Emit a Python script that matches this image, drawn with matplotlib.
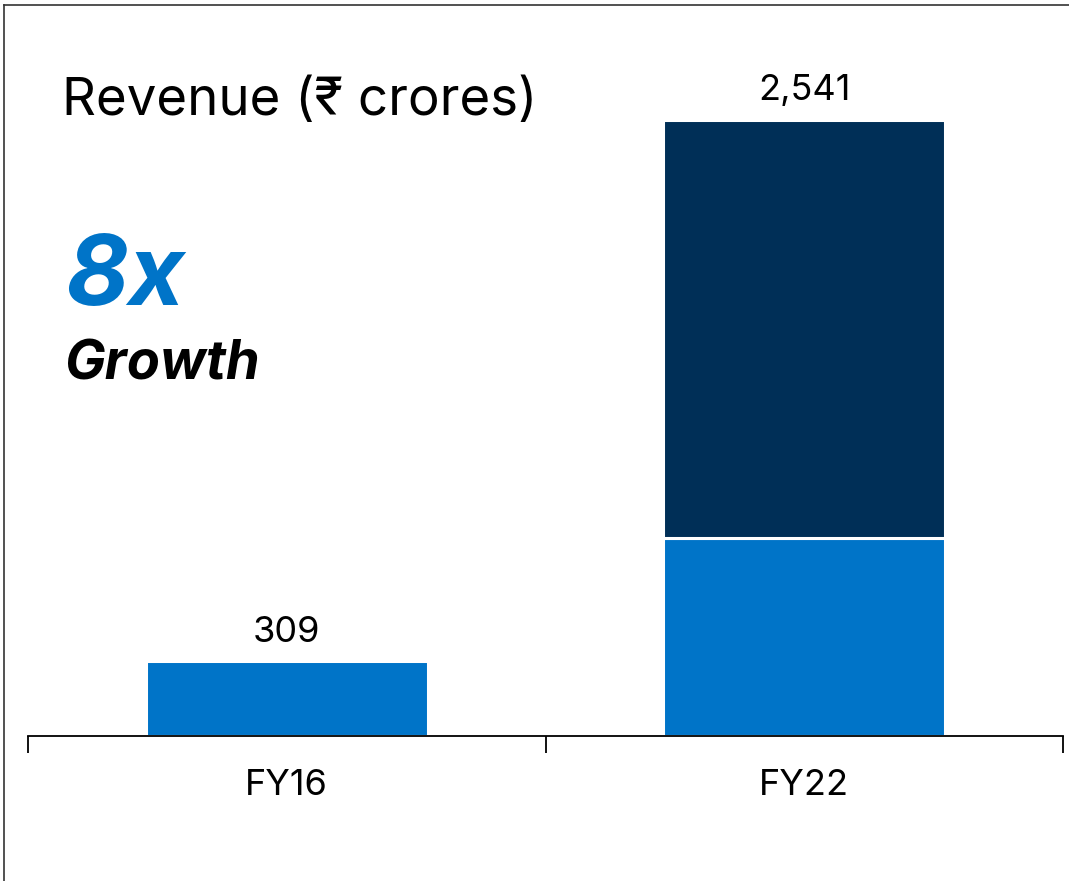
import matplotlib
matplotlib.use("Agg")
import matplotlib.pyplot as plt
from matplotlib.lines import Line2D

categories = ["FY16", "FY22"]
base_values = [309, 815]
top_values = [0, 1726]
totals = ["309", "2,541"]

BLUE = "#0074C8"
NAVY = "#002F57"
FONT = ["Inter", "DejaVu Sans"]

W, H = 1069, 881
fig = plt.figure(figsize=(W / 100, H / 100), dpi=100)
ax = fig.add_axes([28 / W, 1 - 736 / H, (1063 - 28) / W, (736 - 30) / H])

x = [0, 1]
ax.bar(x, base_values, width=0.545, color=BLUE, edgecolor="white", linewidth=2.2)
ax.bar(x[1:], top_values[1:], bottom=base_values[1:], width=0.545, color=NAVY,
       edgecolor="white", linewidth=2.2)

ax.set_xlim(-0.5, 1.5)
ax.set_ylim(0, 2910)
for xi, base, top, lab in zip(x, base_values, top_values, totals):
    ax.text(xi, base + top + 50, lab, ha="center", va="bottom", fontsize=26,
            family=FONT, color="black")

for s in ["top", "right", "left"]:
    ax.spines[s].set_visible(False)
ax.spines["bottom"].set_linewidth(1.3)
ax.set_yticks([])
ax.set_xticks([-0.5, 0.5, 1.5])
ax.set_xticklabels([])
ax.set_xticks(x, minor=True)
ax.set_xticklabels(categories, minor=True, fontsize=26, family=FONT)
ax.tick_params(axis="x", which="major", length=12, width=1.3, direction="out")
ax.tick_params(axis="x", which="minor", length=0, pad=24)

fig.text(62 / W, 1 - 115 / H, "Revenue (₹ crores)", fontsize=38, family=FONT,
         ha="left", va="baseline")
fig.text(66 / W, 1 - 305 / H, "8x", fontsize=70, family=FONT, fontweight="bold",
         style="italic", color=BLUE, ha="left", va="baseline")
fig.text(64 / W, 1 - 379 / H, "Growth", fontsize=39, family=FONT, fontweight="bold",
         style="italic", color="black", ha="left", va="baseline")

fig.add_artist(Line2D([4 / W, 4 / W], [0, 1 - 5 / H], color="#333333", linewidth=1.2))
fig.add_artist(Line2D([4 / W, 1], [1 - 5 / H, 1 - 5 / H], color="#333333", linewidth=1.2))

fig.savefig("out.png", dpi=100)
